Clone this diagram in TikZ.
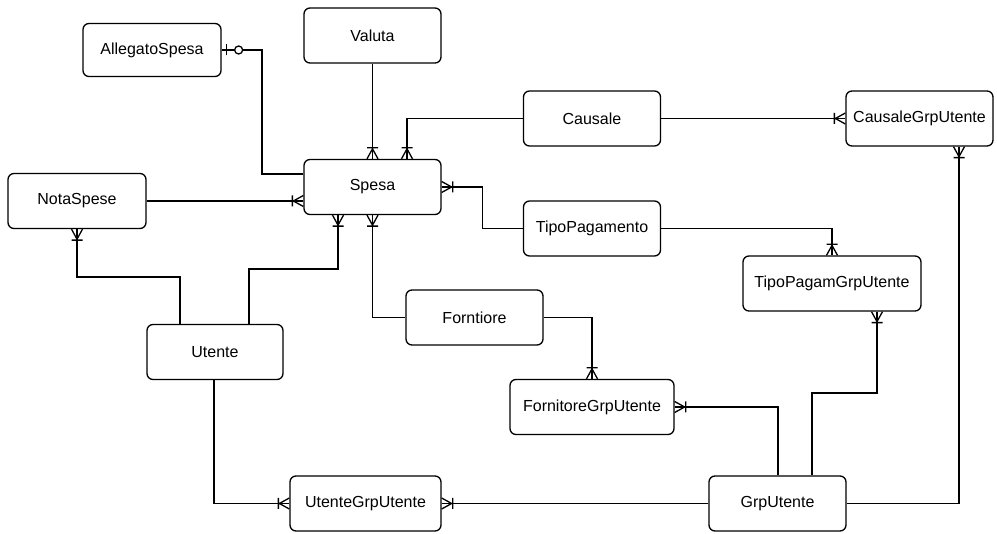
\documentclass[tikz,border=0pt]{standalone}
\usepackage{fontspec}
\setmainfont{Liberation Sans}
\usetikzlibrary{calc}
\pgfdeclarearrow{
  name=CrowOne,
  setup code={
    \pgfarrowssettipend{0pt}
    \pgfarrowssetlineend{0pt}
    \pgfarrowssetbackend{-11pt}
    \pgfarrowssetvisualbackend{-11pt}
    \pgfarrowshullpoint{0pt}{6pt}
    \pgfarrowshullpoint{0pt}{-6pt}
    \pgfarrowshullpoint{-11pt}{6pt}
    \pgfarrowshullpoint{-11pt}{-6pt}
  },
  drawing code={
    \pgfsetdash{}{0pt}
    \pgfpathmoveto{\pgfqpoint{0pt}{5.5pt}}
    \pgfpathlineto{\pgfqpoint{-10pt}{0pt}}
    \pgfpathlineto{\pgfqpoint{0pt}{-5.5pt}}
    \pgfpathmoveto{\pgfqpoint{-11pt}{5.5pt}}
    \pgfpathlineto{\pgfqpoint{-11pt}{-5.5pt}}
    \pgfusepathqstroke
  }
}
\pgfdeclarearrow{
  name=ZeroOne,
  setup code={
    \pgfarrowssettipend{0pt}
    \pgfarrowssetlineend{-21pt}
    \pgfarrowssetbackend{-21pt}
    \pgfarrowssetvisualbackend{-21pt}
    \pgfarrowshullpoint{0pt}{6pt}
    \pgfarrowshullpoint{0pt}{-6pt}
    \pgfarrowshullpoint{-21pt}{6pt}
    \pgfarrowshullpoint{-21pt}{-6pt}
  },
  drawing code={
    \pgfsetdash{}{0pt}
    \pgfpathmoveto{\pgfqpoint{0pt}{0pt}}
    \pgfpathlineto{\pgfqpoint{-13pt}{0pt}}
    \pgfpathmoveto{\pgfqpoint{-5pt}{5.5pt}}
    \pgfpathlineto{\pgfqpoint{-5pt}{-5.5pt}}
    \pgfusepathqstroke
    \pgfpathcircle{\pgfqpoint{-17pt}{0pt}}{4pt}
    \pgfusepathqstroke
  }
}
\begin{document}
\begin{tikzpicture}[x=1pt,y=-1pt,
  ent/.style={draw=black, fill=white, rounded corners=6pt, line width=1.3pt,
    minimum height=55pt, minimum width=137pt, inner sep=0pt,
    font=\fontsize{16}{19}\selectfont},
  rel/.style={draw=black, line width=1.3pt}]
\useasboundingbox (0,0) rectangle (997,534);
\node[ent, minimum width=138pt, minimum height=53pt] (A) at (152,50) {AllegatoSpesa};
\node[ent] (V) at (372.5,35.5) {Valuta};
\node[ent] (C) at (592,118.5) {Causale};
\node[ent, minimum width=147pt] (CG) at (919.5,118.5) {CausaleGrpUtente};
\node[ent] (S) at (372.5,187) {Spesa};
\node[ent, minimum width=138pt] (N) at (77,201) {NotaSpese};
\node[ent] (T) at (592,228.5) {TipoPagamento};
\node[ent, minimum width=178pt] (TG) at (832,283.5) {TipoPagamGrpUtente};
\node[ent] (F) at (474.5,317.5) {Forntiore};
\node[ent, minimum width=136pt] (U) at (215,352) {Utente};
\node[ent, minimum width=164pt] (FG) at (592,407) {FornitoreGrpUtente};
\node[ent, minimum width=151pt] (UG) at (365.5,503.5) {UtenteGrpUtente};
\node[ent] (G) at (777.5,503.5) {GrpUtente};

\draw[rel, {ZeroOne}-] (A.east) -| (262,174) -- ([yshift=13pt]S.west);
\draw[rel, -{CrowOne}] (V.south) -- (S.north);
\draw[rel, -{CrowOne}] (C.west) -| ([xshift=34.5pt]S.north);
\draw[rel, -{CrowOne}] (C.east) -- (CG.west);
\draw[rel, -{CrowOne}] (N.east) -- ([yshift=-14pt]S.west);
\draw[rel, {CrowOne}-] (S.east) -| ($(S.east)!0.5!(T.west)$) |- (T.west);
\draw[rel, -{CrowOne}] (T.east) -| (TG.north);
\draw[rel, {CrowOne}-] (N.south) |- (180,277) -- ([xshift=-35pt]U.north);
\draw[rel, -{CrowOne}] ([xshift=34pt]U.north) |- (338,269) -- ([xshift=-34.5pt]S.south);
\draw[rel, {CrowOne}-] (S.south) |- (F.west);
\draw[rel, -{CrowOne}] (F.east) -| (FG.north);
\draw[rel, -{CrowOne}] ([xshift=-1pt]U.south) |- (UG.west);
\draw[rel, -{CrowOne}] (G.west) -- (UG.east);
\draw[rel, -{CrowOne}] ([xshift=0.5pt]G.north) |- (FG.east);
\draw[rel, -{CrowOne}] ([xshift=34.5pt]G.north) |- (877,393) -- ([xshift=45pt]TG.south);
\draw[rel, -{CrowOne}] (G.east) -| ([xshift=39.5pt]CG.south);
\end{tikzpicture}
\end{document}
